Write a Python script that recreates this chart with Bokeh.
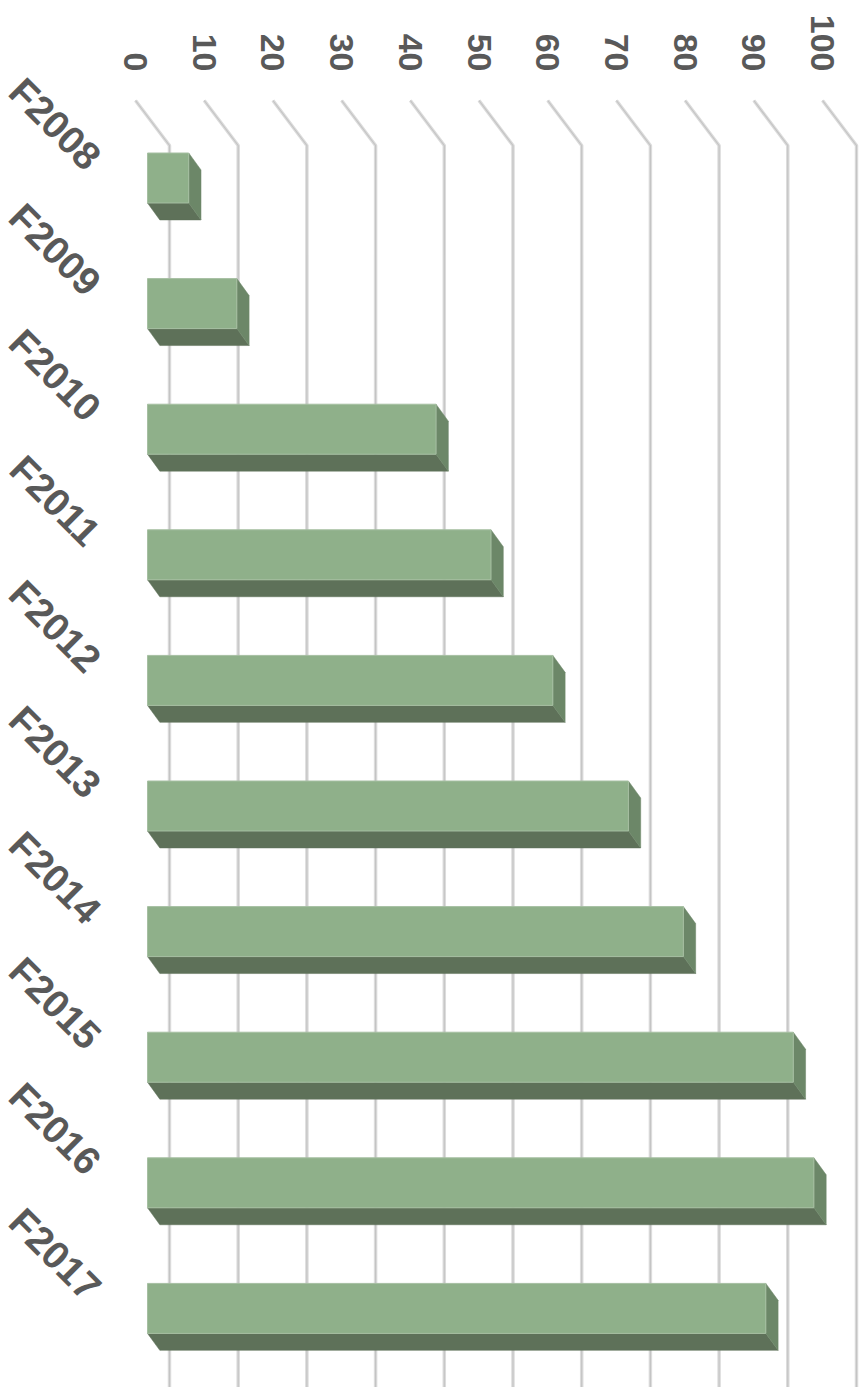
import math
from bokeh.plotting import figure
from bokeh.models import Range1d, ColumnDataSource
from bokeh.core.properties import value
from bokeh.embed import file_html
from bokeh.resources import INLINE

# ---- data ----
categories = ["F2008", "F2009", "F2010", "F2011", "F2012",
              "F2013", "F2014", "F2015", "F2016", "F2017"]
values = [6, 13, 42, 50, 59, 70, 78, 94, 97, 90]
tick_values = [0, 10, 20, 30, 40, 50, 60, 70, 80, 90, 100]
tick_labels = [str(t) for t in tick_values]

# ---- geometry (data units: x = value, y = category index, downward) ----
HALF = 0.199            # half height of bar front face
BDX, BDY = 1.79, 0.135  # bar depth offset
FRONT_DX = -1.747       # front plane of axis relative to bar front
BACK_DX = 3.20          # back wall relative to bar front
GRID_TOP_Y = -0.617
GRID_ELBOW_Y = -0.2588
TICK_LABEL_Y = -0.848
CAT_DX, CAT_DY = -13.46, -0.43

FONT = value("Liberation Sans")
TXT = "#595959"

p = figure(width=865, height=1387,
           x_range=Range1d(-21.397, 104.51),
           y_range=Range1d(9.6297, -1.4132),
           output_backend="svg", toolbar_location=None,
           x_axis_location=None, y_axis_location=None,
           min_border=0)
p.grid.visible = False
p.outline_line_color = None
p.background_fill_color = "white"
p.border_fill_color = "white"

# gridlines (back wall with diagonal floor edge)
gxs = [[t + FRONT_DX, t + BACK_DX, t + BACK_DX] for t in tick_values]
gys = [[GRID_TOP_Y, GRID_ELBOW_Y, 9.8] for _ in tick_values]
p.multi_line(xs=gxs, ys=gys, line_color="#DCDCDC", line_width=3.5)
p.multi_line(xs=gxs, ys=gys, line_color="#C4C4C4", line_width=1.2)

# tick labels
p.text(x=[t + FRONT_DX for t in tick_values], y=[TICK_LABEL_Y] * len(tick_values),
       text=tick_labels, angle=-math.pi / 2, text_align="right",
       text_baseline="middle", text_font=FONT, text_font_size="34px",
       text_font_style="bold", text_color=TXT)

# bars
idx = list(range(len(categories)))
bottom_xs, bottom_ys, side_xs, side_ys = [], [], [], []
for i, v in zip(idx, values):
    top, bot = i - HALF, i + HALF
    bottom_xs.append([0, v, v + BDX, BDX])
    bottom_ys.append([bot, bot, bot + BDY, bot + BDY])
    side_xs.append([v, v + BDX, v + BDX, v])
    side_ys.append([top, top + BDY, bot + BDY, bot])

p.patches(xs=bottom_xs, ys=bottom_ys, fill_color="#5E7159",
          line_color="#5E7159", line_width=0.5)
p.patches(xs=side_xs, ys=side_ys, fill_color="#6C8768",
          line_color="#6C8768", line_width=0.5)
src = ColumnDataSource(dict(left=[0] * len(values), right=values,
                            top=[i - HALF for i in idx],
                            bottom=[i + HALF for i in idx]))
p.quad(left="left", right="right", top="top", bottom="bottom", source=src,
       fill_color="#8FB08A", line_color="#A6BFA2", line_width=1)

# category labels
p.text(x=[CAT_DX] * len(categories), y=[i + CAT_DY for i in idx],
       text=categories, angle=-math.pi / 4, text_align="center",
       text_baseline="middle", text_font=FONT, text_font_size="39px",
       text_font_style="bold", text_color=TXT)

open("out.html", "w").write(file_html(p, INLINE))
